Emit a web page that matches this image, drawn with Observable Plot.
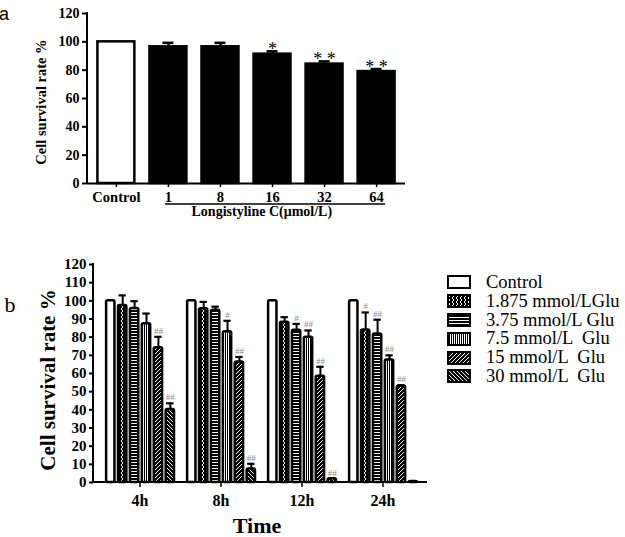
<!DOCTYPE html>
<html><head><meta charset="utf-8">
<script src="https://cdn.jsdelivr.net/npm/d3@7"></script>
<script src="https://cdn.jsdelivr.net/npm/@observablehq/plot@0.6"></script>
<style>
body{margin:0;background:#fff;}
#wrap{position:relative;width:625px;height:537px;overflow:hidden;background:#fff;font-family:'Liberation Serif','Times New Roman',serif;}
#a{position:absolute;left:0;top:0;}
#b{position:absolute;left:0;top:245px;}
#legend{position:absolute;left:447px;top:273px;font-size:18.5px;color:#000;}
.row{display:flex;align-items:center;height:18.8px;white-space:pre;}
.row svg{margin-right:15px;flex:none;}
</style></head><body>
<div id="wrap">
<svg width="0" height="0" style="position:absolute">
<defs>
<pattern id="pX" width="4" height="4" patternUnits="userSpaceOnUse"><rect width="4" height="4" fill="#000"/><path d="M1,0 L3,2 L1,4" stroke="#fff" stroke-width="1" fill="none"/></pattern>
<pattern id="pH" width="4" height="3" patternUnits="userSpaceOnUse"><rect width="4" height="3" fill="#000"/><rect y="1" width="4" height="1" fill="#fff"/></pattern>
<pattern id="pV" width="2" height="4" patternUnits="userSpaceOnUse"><rect width="2" height="4" fill="#000"/><rect x="1" width="1" height="4" fill="#fff"/></pattern>
<pattern id="pD1" width="4" height="4" patternUnits="userSpaceOnUse"><rect width="4" height="4" fill="#000"/><path d="M-1,1 L1,-1 M0,4 L4,0 M3,5 L5,3" stroke="#fff" stroke-width="1" fill="none"/></pattern>
<pattern id="pD2" width="4" height="4" patternUnits="userSpaceOnUse"><rect width="4" height="4" fill="#000"/><path d="M-1,3 L1,5 M0,0 L4,4 M3,-1 L5,1" stroke="#fff" stroke-width="1" fill="none"/></pattern>
</defs></svg>
<div id="a"></div><div id="b"></div><div id="legend"></div>
</div>
<script>
// ---- Panel a data ----
const catA = ["Control", "1", "8", "16", "32", "64"];
const valA = [100, 96.5, 96.5, 91.3, 84.3, 79];
const errA = [0, 2.8, 2.8, 2, 1.9, 1.8];
const sigA = ["", "", "", "*", "**", "**"];
const yTicksA = [0, 20, 40, 60, 80, 100, 120];

// ---- Panel b data ----
const times = ["4h", "8h", "12h", "24h"];
const groups = ["Control", "1.875 mmol/LGlu", "3.75 mmol/L Glu", "7.5 mmol/L  Glu", "15 mmol/L  Glu", "30 mmol/L  Glu"];
const patterns = ["white", "url(#pX)", "url(#pH)", "url(#pV)", "url(#pD1)", "url(#pD2)"];
const val4h = [100, 97.4, 95.8, 87.4, 74.2, 40.2];
const err4h = [0, 5.6, 4, 5.6, 6, 3.4];
const sig4h = ["", "", "", "", "##", "##"];
const val8h = [100, 95.6, 94.8, 83, 66.3, 7.5];
const err8h = [0, 3.8, 2, 6, 2.8, 2.8];
const sig8h = ["", "", "", "#", "##", "##"];
const val12h = [100, 88.2, 83.8, 80, 58.5, 2];
const err12h = [0, 2.8, 3.5, 3.7, 5.2, 0];
const sig12h = ["", "", "#", "##", "##", "##"];
const val24h = [100, 84, 81.8, 67.4, 53, 0.5];
const err24h = [0, 9.6, 7.8, 2.6, 0.6, 0];
const sig24h = ["", "#", "##", "##", "##", ""];
const yTicksB = [0, 10, 20, 30, 40, 50, 60, 70, 80, 90, 100, 110, 120];

const font = "'Liberation Serif','Times New Roman',serif";

// ---- Panel a ----
const dataA = catA.map((c, i) => ({c, v: valA[i], e: errA[i], s: sigA[i]}));
const chartA = Plot.plot({
  width: 420, height: 225,
  marginLeft: 87, marginTop: 13, marginBottom: 42, marginRight: 15,
  style: {fontFamily: font, color: "#000", background: "transparent", overflow: "visible"},
  x: {domain: catA, paddingInner: 0.29, paddingOuter: 0.2, round: false},
  y: {domain: [0, 120]},
  color: {type: "identity"},
  marks: [
    Plot.barY(dataA, {x: "c", y: "v", fill: d => d.c === "Control" ? "white" : "black", stroke: "black", strokeWidth: 2.5}),
    Plot.ruleX(dataA.filter(d => d.e > 0), {x: "c", y1: "v", y2: d => d.v + d.e, strokeWidth: 2.5}),
    Plot.tickY(dataA.filter(d => d.e > 0), {x: "c", y: d => d.v + d.e, strokeWidth: 2.5, insetLeft: 13, insetRight: 13}),
    Plot.text(dataA.filter(d => d.s), {x: "c", y: d => d.v + d.e, text: d => d.s.split("").join(" "), lineAnchor: "bottom", dy: 4, fontSize: 18, fill: "#000"}),
    Plot.ruleY([0], {strokeWidth: 2}),
    Plot.axisY({ticks: yTicksA, tickSize: 5, tickPadding: 3, fontSize: 14, fontWeight: "bold", strokeWidth: 2, label: null}),
    Plot.axisX({tickSize: 4, tickPadding: 4, fontSize: 14.5, fontWeight: "bold", strokeWidth: 1.5, label: null})
  ]
});
document.getElementById("a").appendChild(chartA);
{
  const svg = d3.select(chartA);
  const x = chartA.scale("x"), y = chartA.scale("y");
  svg.append("line").attr("x1", 87).attr("x2", 87).attr("y1", y.apply(120) - 1).attr("y2", y.apply(0) + 1).attr("stroke", "#000").attr("stroke-width", 2);
  const bw = x.bandwidth;
  const xs = x.apply("1") + bw / 2 - 3, xe = x.apply("64") + bw / 2 + 9;
  svg.append("line").attr("x1", xs).attr("x2", xe).attr("y1", 204).attr("y2", 204).attr("stroke", "#000").attr("stroke-width", 1.5);
  svg.append("text").attr("x", xs + (xe - xs) * 0.44).attr("y", 216).attr("text-anchor", "middle")
    .attr("font-size", 14).attr("font-weight", "bold").attr("font-family", font).text("Longistyline C(μmol/L)");
  svg.append("text").attr("transform", `translate(46,${(y.apply(0) + y.apply(120)) / 2 + 4}) rotate(-90)`).attr("text-anchor", "middle")
    .attr("font-size", 14.5).attr("font-weight", "bold").attr("font-family", font).text("Cell survival rate %");
  svg.append("text").attr("x", 4).attr("y", 20).attr("font-size", 18).attr("font-family", "'Liberation Sans',Arial,sans-serif").text("a");
}

// ---- Panel b ----
const valsB = [val4h, val8h, val12h, val24h];
const errsB = [err4h, err8h, err12h, err24h];
const sigsB = [sig4h, sig8h, sig12h, sig24h];
const dataB = [];
times.forEach((t, ti) => groups.forEach((g, gi) => dataB.push({t, g, v: valsB[ti][gi], e: errsB[ti][gi], s: sigsB[ti][gi], f: patterns[gi]})));

const chartB = Plot.plot({
  width: 430, height: 292,
  marginLeft: 93, marginTop: 19, marginBottom: 55, marginRight: 13,
  style: {fontFamily: font, color: "#000", background: "transparent", overflow: "visible"},
  fx: {domain: times, padding: 0, round: false, label: null},
  x: {domain: groups, paddingInner: 0.3, paddingOuter: 0.55, align: 1, round: false, axis: null},
  y: {domain: [0, 120]},
  color: {type: "identity"},
  marks: [
    Plot.barY(dataB, {fx: "t", x: "g", y: "v", fill: "f", stroke: "black", strokeWidth: 2.5, rx: 1.5}),
    Plot.ruleX(dataB.filter(d => d.e > 0), {fx: "t", x: "g", y1: "v", y2: d => d.v + d.e, strokeWidth: 2}),
    Plot.tickY(dataB.filter(d => d.e > 0), {fx: "t", x: "g", y: d => d.v + d.e, strokeWidth: 2.2, insetLeft: 0.5, insetRight: 0.5}),
    Plot.text(dataB.filter(d => d.s), {fx: "t", x: "g", y: d => d.v + d.e, text: "s", dy: -6, fontSize: 9, fill: "#8a8a8a"}),
    Plot.axisY({ticks: yTicksB, tickSize: 4, tickPadding: 3, fontSize: 15, fontWeight: "bold", strokeWidth: 2, label: null}),
    Plot.axisFx({anchor: "bottom", tickSize: 5, tickPadding: 7, fontSize: 16, fontWeight: "bold", strokeWidth: 1.5, dx: 6, label: null})
  ]
});
document.getElementById("b").appendChild(chartB);
{
  const svg = d3.select(chartB);
  const y = chartB.scale("y");
  const y0 = y.apply(0);
  svg.append("line").attr("x1", 93).attr("x2", 93).attr("y1", y.apply(120) - 1).attr("y2", y0 + 1).attr("stroke", "#000").attr("stroke-width", 2);
  svg.append("line").attr("x1", 92).attr("x2", 427).attr("y1", y0).attr("y2", y0).attr("stroke", "#000").attr("stroke-width", 2);
  svg.append("text").attr("transform", `translate(55,${(y0 + y.apply(120)) / 2 + 7}) rotate(-90)`).attr("text-anchor", "middle")
    .attr("font-size", 21).attr("font-weight", "bold").attr("font-family", font).text("Cell survival rate %");
  svg.append("text").attr("x", 257).attr("y", 288).attr("text-anchor", "middle")
    .attr("font-size", 22).attr("font-weight", "bold").attr("font-family", font).text("Time");
  svg.append("text").attr("x", 10).attr("y", 67).attr("font-size", 22).attr("font-family", font).text("b");
}

// ---- Legend ----
const legend = d3.select("#legend");
groups.forEach((g, i) => {
  const row = legend.append("div").attr("class", "row");
  const s = row.append("svg").attr("width", 24).attr("height", 14);
  s.append("rect").attr("x", 1).attr("y", 1).attr("width", 22).attr("height", 12).attr("fill", patterns[i]).attr("stroke", "#000").attr("stroke-width", 2);
  row.append("span").text(g);
});
</script>
</body></html>
